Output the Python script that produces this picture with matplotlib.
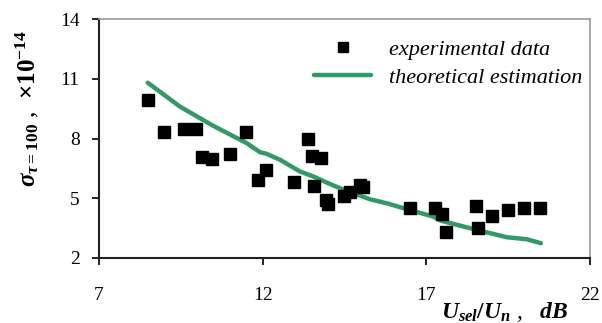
import matplotlib
matplotlib.use("Agg")
import matplotlib.pyplot as plt

plt.rcParams['font.family'] = ['Liberation Serif', 'DejaVu Serif']
plt.rcParams['mathtext.fontset'] = 'custom'
plt.rcParams['mathtext.it'] = 'Liberation Serif:italic:bold'
plt.rcParams['mathtext.rm'] = 'Liberation Serif:bold'
plt.rcParams['mathtext.bf'] = 'Liberation Serif:bold'

exp_x = [8.49, 8.98, 9.61, 9.95, 10.16, 10.45, 10.99, 11.48, 11.86, 12.09,
         12.95, 13.38, 13.51, 13.79, 13.56, 13.93, 13.99, 14.47, 14.67, 14.98,
         15.07, 16.50, 17.26, 17.47, 17.59, 18.51, 18.57, 19.00, 19.49, 19.97, 20.46]
exp_y = [9.92, 8.32, 8.49, 8.49, 7.09, 6.99, 7.21, 8.32, 5.90, 6.41,
         5.82, 8.00, 7.11, 7.00, 5.60, 4.91, 4.69, 5.11, 5.30, 5.68,
         5.58, 4.49, 4.49, 4.20, 3.31, 4.61, 3.48, 4.10, 4.40, 4.49, 4.49]

th_x = [8.49, 9.47, 10.49, 11.51, 11.92, 12.12, 12.53, 13.14, 13.55, 13.96,
        14.36, 15.28, 15.79, 16.50, 17.21, 17.43, 18.54, 19.46, 20.07, 20.50]
th_y = [10.81, 9.61, 8.64, 7.77, 7.31, 7.23, 6.93, 6.34, 6.09, 5.78,
        5.50, 4.94, 4.74, 4.40, 4.07, 3.87, 3.40, 3.03, 2.93, 2.73]

x_ticks = [7, 12, 17, 22]
y_ticks = [2, 5, 8, 11, 14]

fig = plt.figure(figsize=(6.02, 3.23), dpi=100)
ax = fig.add_axes([0.1645, 0.2022, 0.8155, 0.7378])

ax.plot(exp_x, exp_y, linestyle='none', marker='s', ms=8.5, color='black',
        label='experimental data', zorder=3)
ax.plot(th_x, th_y, color='#339966', lw=3.2, label='theoretical estimation',
        solid_capstyle='round', zorder=2)

ax.set_xlim(7, 22)
ax.set_ylim(2, 14)
ax.set_xticks(x_ticks)
ax.set_yticks(y_ticks)
ax.tick_params(axis='both', direction='out', length=5, width=1.2, labelsize=14)
ax.tick_params(axis='x', pad=16)
ax.tick_params(axis='y', pad=9)

for s in ['left', 'bottom']:
    ax.spines[s].set_color('#222222')
    ax.spines[s].set_linewidth(1.5)
for s in ['top', 'right']:
    ax.spines[s].set_color('#999999')
    ax.spines[s].set_linewidth(1.2)

leg = ax.legend(loc='upper right', bbox_to_anchor=(1.025, 1.0), frameon=False,
                prop={'style': 'italic', 'size': 16}, handlelength=2.55,
                handletextpad=0.8, labelspacing=0.35, markerscale=0.8)

fig.text(0.045, 0.665, r'$\sigma_{\tau=100}$ ,  $\mathrm{\times}\mathit{10^{-14}}$',
         rotation=90, ha='center', va='center', fontsize=18)
fig.text(0.838, 0.035, r'$U_{sel}/U_{n}$ ,   $dB$', ha='center', va='center',
         fontsize=17)

fig.savefig('out.png', dpi=100)
